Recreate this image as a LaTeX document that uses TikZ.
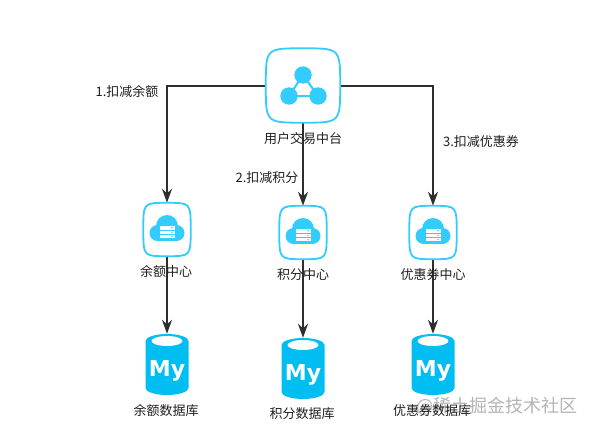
\documentclass[tikz,border=0pt]{standalone}
\usepackage{fontspec}
\setmainfont{Noto Sans CJK SC}
\newfontfamily\logofont{DejaVu Sans}
\usetikzlibrary{arrows.meta,calc}
\definecolor{iconblue}{HTML}{33CCFF}
\definecolor{dbblue}{HTML}{00BEF2}
\definecolor{linegray}{HTML}{2E2E2E}
\definecolor{stampgray}{HTML}{B4B4B4}
\tikzset{
  flow/.style={draw=linegray,line width=2pt,-{Stealth[length=14pt,width=10pt]}},
  hubbox/.style={minimum width=74pt,minimum height=74pt,inner sep=0pt},
  svcbox/.style={minimum width=47pt,minimum height=53pt,inner sep=0pt},
  dbbox/.style={minimum width=43pt,minimum height=61pt,inner sep=0pt},
  lab/.style={font=\fontsize{13}{15}\selectfont,text=black!88,inner sep=0pt},
  stamptext/.style={font=\fontsize{18}{20}\selectfont,text=stampgray,inner sep=0pt},
  squircle/.style={draw=iconblue,line width=1.8pt,fill=white},
  pics/cloud/.style={code={
    \fill[iconblue] (-9.5,3.5) circle (8);
    \fill[iconblue] (9.5,3.5) circle (8);
    \fill[iconblue] (0,-3.5) circle (11);
    \fill[iconblue] (-9.5,0) rectangle (9.5,11.5);
    \fill[white] (-7.5,-4) rectangle (7.5,0.4);
    \fill[white] (-7.5,1.2) rectangle (7.5,4.6);
    \fill[white] (-7.5,5.4) rectangle (7.5,8.8);
    \fill[iconblue] (5,-1.8) circle (0.8) (5,2.9) circle (0.8) (5,7.1) circle (0.8);
  }},
  pics/barrel/.style={code={
    \fill[dbblue] (-21.5,-23.5) arc (180:360:21.5 and 7) -- (21.5,23.5) arc (0:180:21.5 and 7) -- cycle;
    \fill[white] (0,-23.5) ellipse (15.5 and 5);
    \node (#1) at (0,6) {\logofont\bfseries\fontsize{22}{24}\selectfont\textcolor{white}{My}};
  }},
}
\newcommand{\squirclepath}[1]{
  \draw[squircle] (#1.west) .. controls (#1.north west) and (#1.north west) .. (#1.north)
    .. controls (#1.north east) and (#1.north east) .. (#1.east)
    .. controls (#1.south east) and (#1.south east) .. (#1.south)
    .. controls (#1.south west) and (#1.south west) .. (#1.west) -- cycle;
}
\begin{document}
\begin{tikzpicture}[x=1pt,y=-1pt]
  \useasboundingbox (0,0) rectangle (592,431);
  \node[stamptext] (stamp) at (497,406) {@稀土掘金技术社区};

  \node[hubbox] (trade) at (303,85.5) {};
  \node[svcbox] (svcA) at (167,229.5) {};
  \node[svcbox] (svcB) at (303,232.5) {};
  \node[svcbox] (svcC) at (433,232.5) {};
  \node[dbbox] (dbA) at (167,364.5) {};
  \node[dbbox] (dbB) at (303,368.5) {};
  \node[dbbox] (dbC) at (433,364.5) {};

  % connectors
  \draw[flow] (trade.west) -| (svcA.north);
  \draw[flow] (trade.south) -- (svcB.north);
  \draw[flow] (trade.east) -| (svcC.north);
  \draw[flow] (svcA.south) -- (dbA.north);
  \draw[flow] (svcB.south) -- (dbB.north);
  \draw[flow] (svcC.south) -- (dbC.north);

  % icons
  \squirclepath{trade}
  \draw[iconblue,line width=2pt] (303,75) -- (289,96) -- (318,96) -- cycle;
  \fill[iconblue] (303,75) circle (8.7);
  \fill[iconblue] (289,96) circle (8.7);
  \fill[iconblue] (318,96) circle (8.7);
  \squirclepath{svcA}
  \squirclepath{svcB}
  \squirclepath{svcC}
  \pic at (svcA) {cloud};
  \pic at (svcB) {cloud};
  \pic at (svcC) {cloud};
  \pic at (dbA) {barrel=logoA};
  \pic at (dbB) {barrel=logoB};
  \pic at (dbC) {barrel=logoC};

  % labels
  \node[lab] (tradeLab) at (303,139) {用户交易中台};
  \node[lab] (svcALab) at (166,272) {余额中心};
  \node[lab] (svcBLab) at (303,275) {积分中心};
  \node[lab] (svcCLab) at (433,275) {优惠券中心};
  \node[lab] (dbALab) at (166,411) {余额数据库};
  \node[lab] (dbBLab) at (302,414) {积分数据库};
  \node[lab] (dbCLab) at (432,411) {优惠券数据库};
  \node[lab] (stepA) at (127,92) {1.扣减余额};
  \node[lab] (stepB) at (267,178) {2.扣减积分};
  \node[lab] (stepC) at (481,142) {3.扣减优惠券};
\end{tikzpicture}
\end{document}
